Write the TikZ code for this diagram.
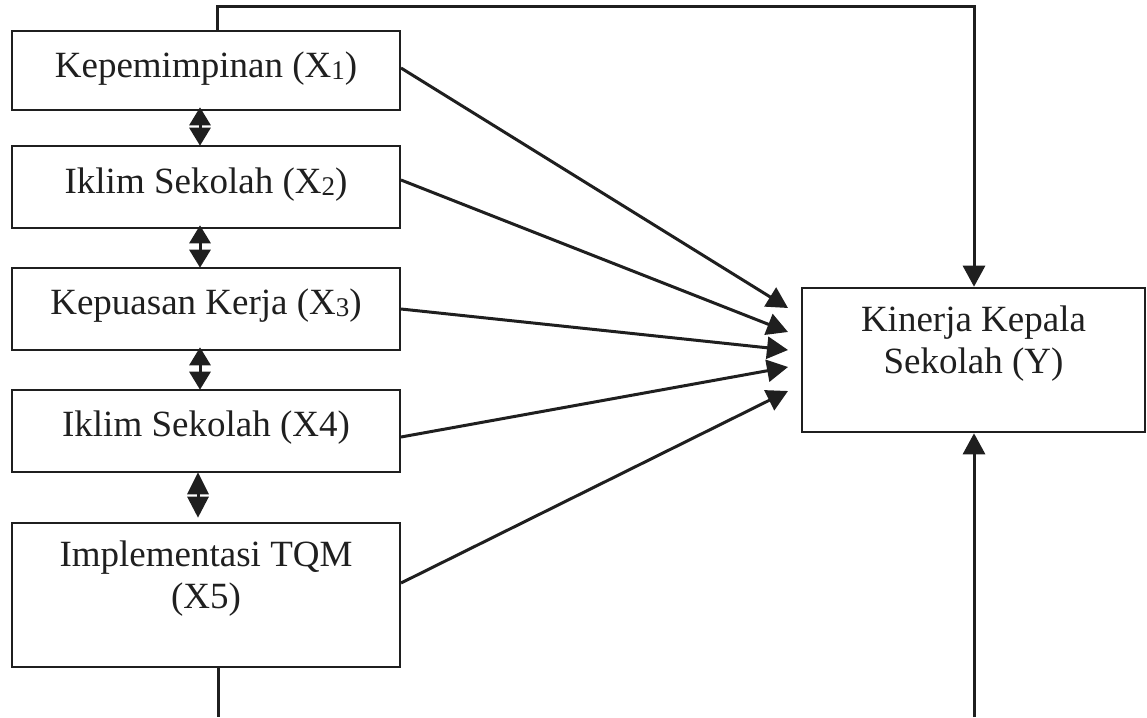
\documentclass[tikz,border=0pt]{standalone}
\usepackage{fontspec}
\setmainfont{Liberation Serif}
\usetikzlibrary{arrows.meta}
\newcommand{\sbs}[1]{{\fontsize{27}{27}\selectfont\raisebox{-2pt}{#1}}}
\begin{document}
\begin{tikzpicture}[x=1pt,y=-1pt,
  box/.style={draw=black!88, line width=2.6pt, rectangle, inner sep=0pt},
  lbl/.style={font=\fontsize{37}{42}\selectfont, align=center, text=black!88, inner sep=0pt},
  conn/.style={draw=black!88, line width=3pt},
  tip/.style={-{Triangle[length=21pt,width=22pt]}},
  dbl/.style={{Triangle[length=18pt,width=21pt]}-{Triangle[length=18pt,width=21pt]}, shorten <=-4pt, shorten >=-1pt},
  dblw/.style={{Triangle[length=22pt,width=21pt]}-{Triangle[length=21pt,width=21pt]}, shorten <=-1pt, shorten >=4pt}
]
\useasboundingbox (0,0) rectangle (1147,717);
% left boxes
\node[box, minimum width=388pt, minimum height=79pt] (x1) at (206,70.5) {};
\node[box, minimum width=388pt, minimum height=82pt] (x2) at (206,187) {};
\node[box, minimum width=388pt, minimum height=82pt] (x3) at (206,309) {};
\node[box, minimum width=388pt, minimum height=82pt] (x4) at (206,431) {};
\node[box, minimum width=388pt, minimum height=144pt] (x5) at (206,595) {};
\node[box, minimum width=343pt, minimum height=144pt] (y) at (973.5,360) {};
% labels
\node[lbl] (t1) at (206,69) {Kepemimpinan (X\sbs{1})};
\node[lbl] (t2) at (206,185) {Iklim Sekolah (X\sbs{2})};
\node[lbl] (t3) at (206,306) {Kepuasan Kerja (X\sbs{3})};
\node[lbl] (t4) at (206,428) {Iklim Sekolah (X4)};
\node[lbl] (t5) at (206,579) {Implementasi TQM\\(X5)};
\node[lbl] (ty) at (973.5,344) {Kinerja Kepala\\Sekolah (Y)};
% coordinates for arrow ends
\coordinate (e1) at (788,308);
\coordinate (e2) at (788,332);
\coordinate (e3) at (788,350);
\coordinate (e4) at (788,367);
\coordinate (e5) at (788,391);
\coordinate (s1) at (401,68);
\coordinate (s2) at (401,180);
\coordinate (s3) at (401,309);
\coordinate (s4) at (401,437);
\coordinate (s5) at (401,583);
\draw[conn, tip] (s1) -- (e1);
\draw[conn, tip] (s2) -- (e2);
\draw[conn, tip] (s3) -- (e3);
\draw[conn, tip] (s4) -- (e4);
\draw[conn, tip] (s5) -- (e5);
% double arrows
\coordinate (ca) at (200,0);
\coordinate (cb) at (198,0);
\draw[conn, dbl] (ca |- x1.south) -- (ca |- x2.north);
\draw[conn, dbl] (ca |- x2.south) -- (ca |- x3.north);
\draw[conn, dbl] (ca |- x3.south) -- (ca |- x4.north);
\draw[conn, dblw] (cb |- x4.south) -- (cb |- x5.north);
% top feedback line
\coordinate (tl) at (217,7);
\coordinate (tr) at (974,7);
\draw[conn, tip] (tl |- x1.north) -- (tl) -- (tr) -- (tr |- y.north);
% bottom lines
\coordinate (b5) at (218,717);
\draw[conn] (b5 |- x5.south) -- (b5);
\coordinate (by) at (974,717);
\draw[conn, tip] (by) -- (by |- y.south);
\end{tikzpicture}
\end{document}
